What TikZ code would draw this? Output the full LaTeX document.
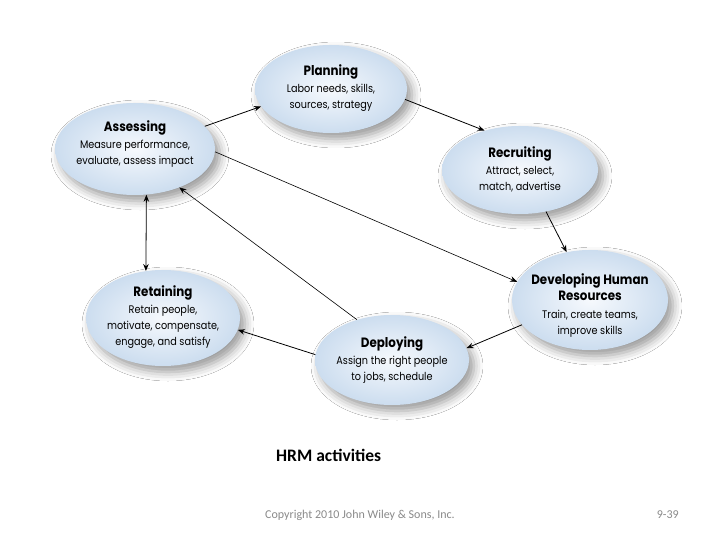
\documentclass[tikz,border=0pt]{standalone}
\usepackage{fontspec}
\setmainfont{Carlito}
\newfontfamily\futura[FakeStretch=0.88]{Poppins}
\usetikzlibrary{arrows.meta,shapes.geometric,shadows.blur}
\definecolor{blobin}{HTML}{F6F9FD}
\definecolor{blobout}{HTML}{CCDDEF}
\definecolor{copygray}{HTML}{8A8A8A}
\tikzset{
  blob/.style={ellipse, inner sep=0pt, draw=none, shading=radial, inner color=blobin, outer color=blobout,
    blur shadow={shadow xshift=5pt, shadow yshift=-6pt, shadow blur radius=9pt, shadow opacity=40}},
  txt/.style={align=center, font=\futura\fontsize{11}{16}\selectfont, text=black, inner sep=0pt},
  conn/.style={-{Stealth[length=7pt,width=5.5pt]}, line width=0.8pt},
  thin conn/.style={-{Stealth[length=7pt,width=5.5pt]}, line width=0.6pt},
  both conn/.style={{Stealth[length=7pt,width=5.5pt]}-{Stealth[length=7pt,width=5.5pt]}, line width=0.8pt},
}
\newcommand{\ttl}[1]{{\bfseries\fontsize{13.5}{17}\selectfont #1}}
\begin{document}
\begin{tikzpicture}[x=1pt,y=-1pt]
\useasboundingbox[fill=white] (0,0) rectangle (720,540);
% ellipses
\node[blob, minimum width=152pt, minimum height=88pt] (plan) at (331,89) {};
\node[blob, minimum width=160pt, minimum height=92pt] (ass) at (135,149) {};
\node[blob, minimum width=156pt, minimum height=88pt] (rec) at (520,170) {};
\node[blob, minimum width=156pt, minimum height=100pt] (dev) at (590,300) {};
\node[blob, minimum width=154pt, minimum height=96pt] (ret) at (163,318) {};
\node[blob, minimum width=154pt, minimum height=90pt] (dep) at (392,360) {};
% texts
\node[txt] (planT) at (331,88) {\ttl{Planning}\\[1pt]Labor needs, skills,\\sources, strategy};
\node[txt] (assT) at (135,144) {\ttl{Assessing}\\[1pt]Measure performance,\\evaluate, assess impact};
\node[txt] (recT) at (520,169) {\ttl{Recruiting}\\[1pt]Attract, select,\\match, advertise};
\node[txt] (devT) at (590,306) {\ttl{Developing Human}\\\ttl{Resources}\\[2pt]Train, create teams,\\improve skills};
\node[txt] (retT) at (163,317) {\ttl{Retaining}\\[1pt]Retain people,\\motivate, compensate,\\engage, and satisfy};
\node[txt] (depT) at (392,360) {\ttl{Deploying}\\[1pt]Assign the right people\\to jobs, schedule};
% connectors
\draw[conn] (ass.18) -- (plan.194);
\draw[conn] (plan.-8) -- (rec.132);
\draw[conn] (rec.-58) -- (dev.116);
\draw[conn] (dev.200) -- (dep.9);
\draw[conn] (dep.176) -- (ret.-9);
\draw[both conn] (ass.-76.4) -- (ret.110);
\draw[thin conn] (ass.-2) -- (dev.166);
\draw[thin conn] (dep.131) -- (ass.-41);
% captions
\node[font=\bfseries\fontsize{17.5}{20}\selectfont, anchor=west, inner sep=0pt] (cap) at (276,455) {HRM activities};
\node[font=\fontsize{12}{14}\selectfont, text=copygray, anchor=west, inner sep=0pt] (copy) at (265,515) {Copyright 2010 John Wiley \& Sons, Inc.};
\node[font=\fontsize{12}{14}\selectfont, text=copygray, anchor=east, inner sep=0pt] (page) at (679,515) {9-39};
\end{tikzpicture}
\end{document}
